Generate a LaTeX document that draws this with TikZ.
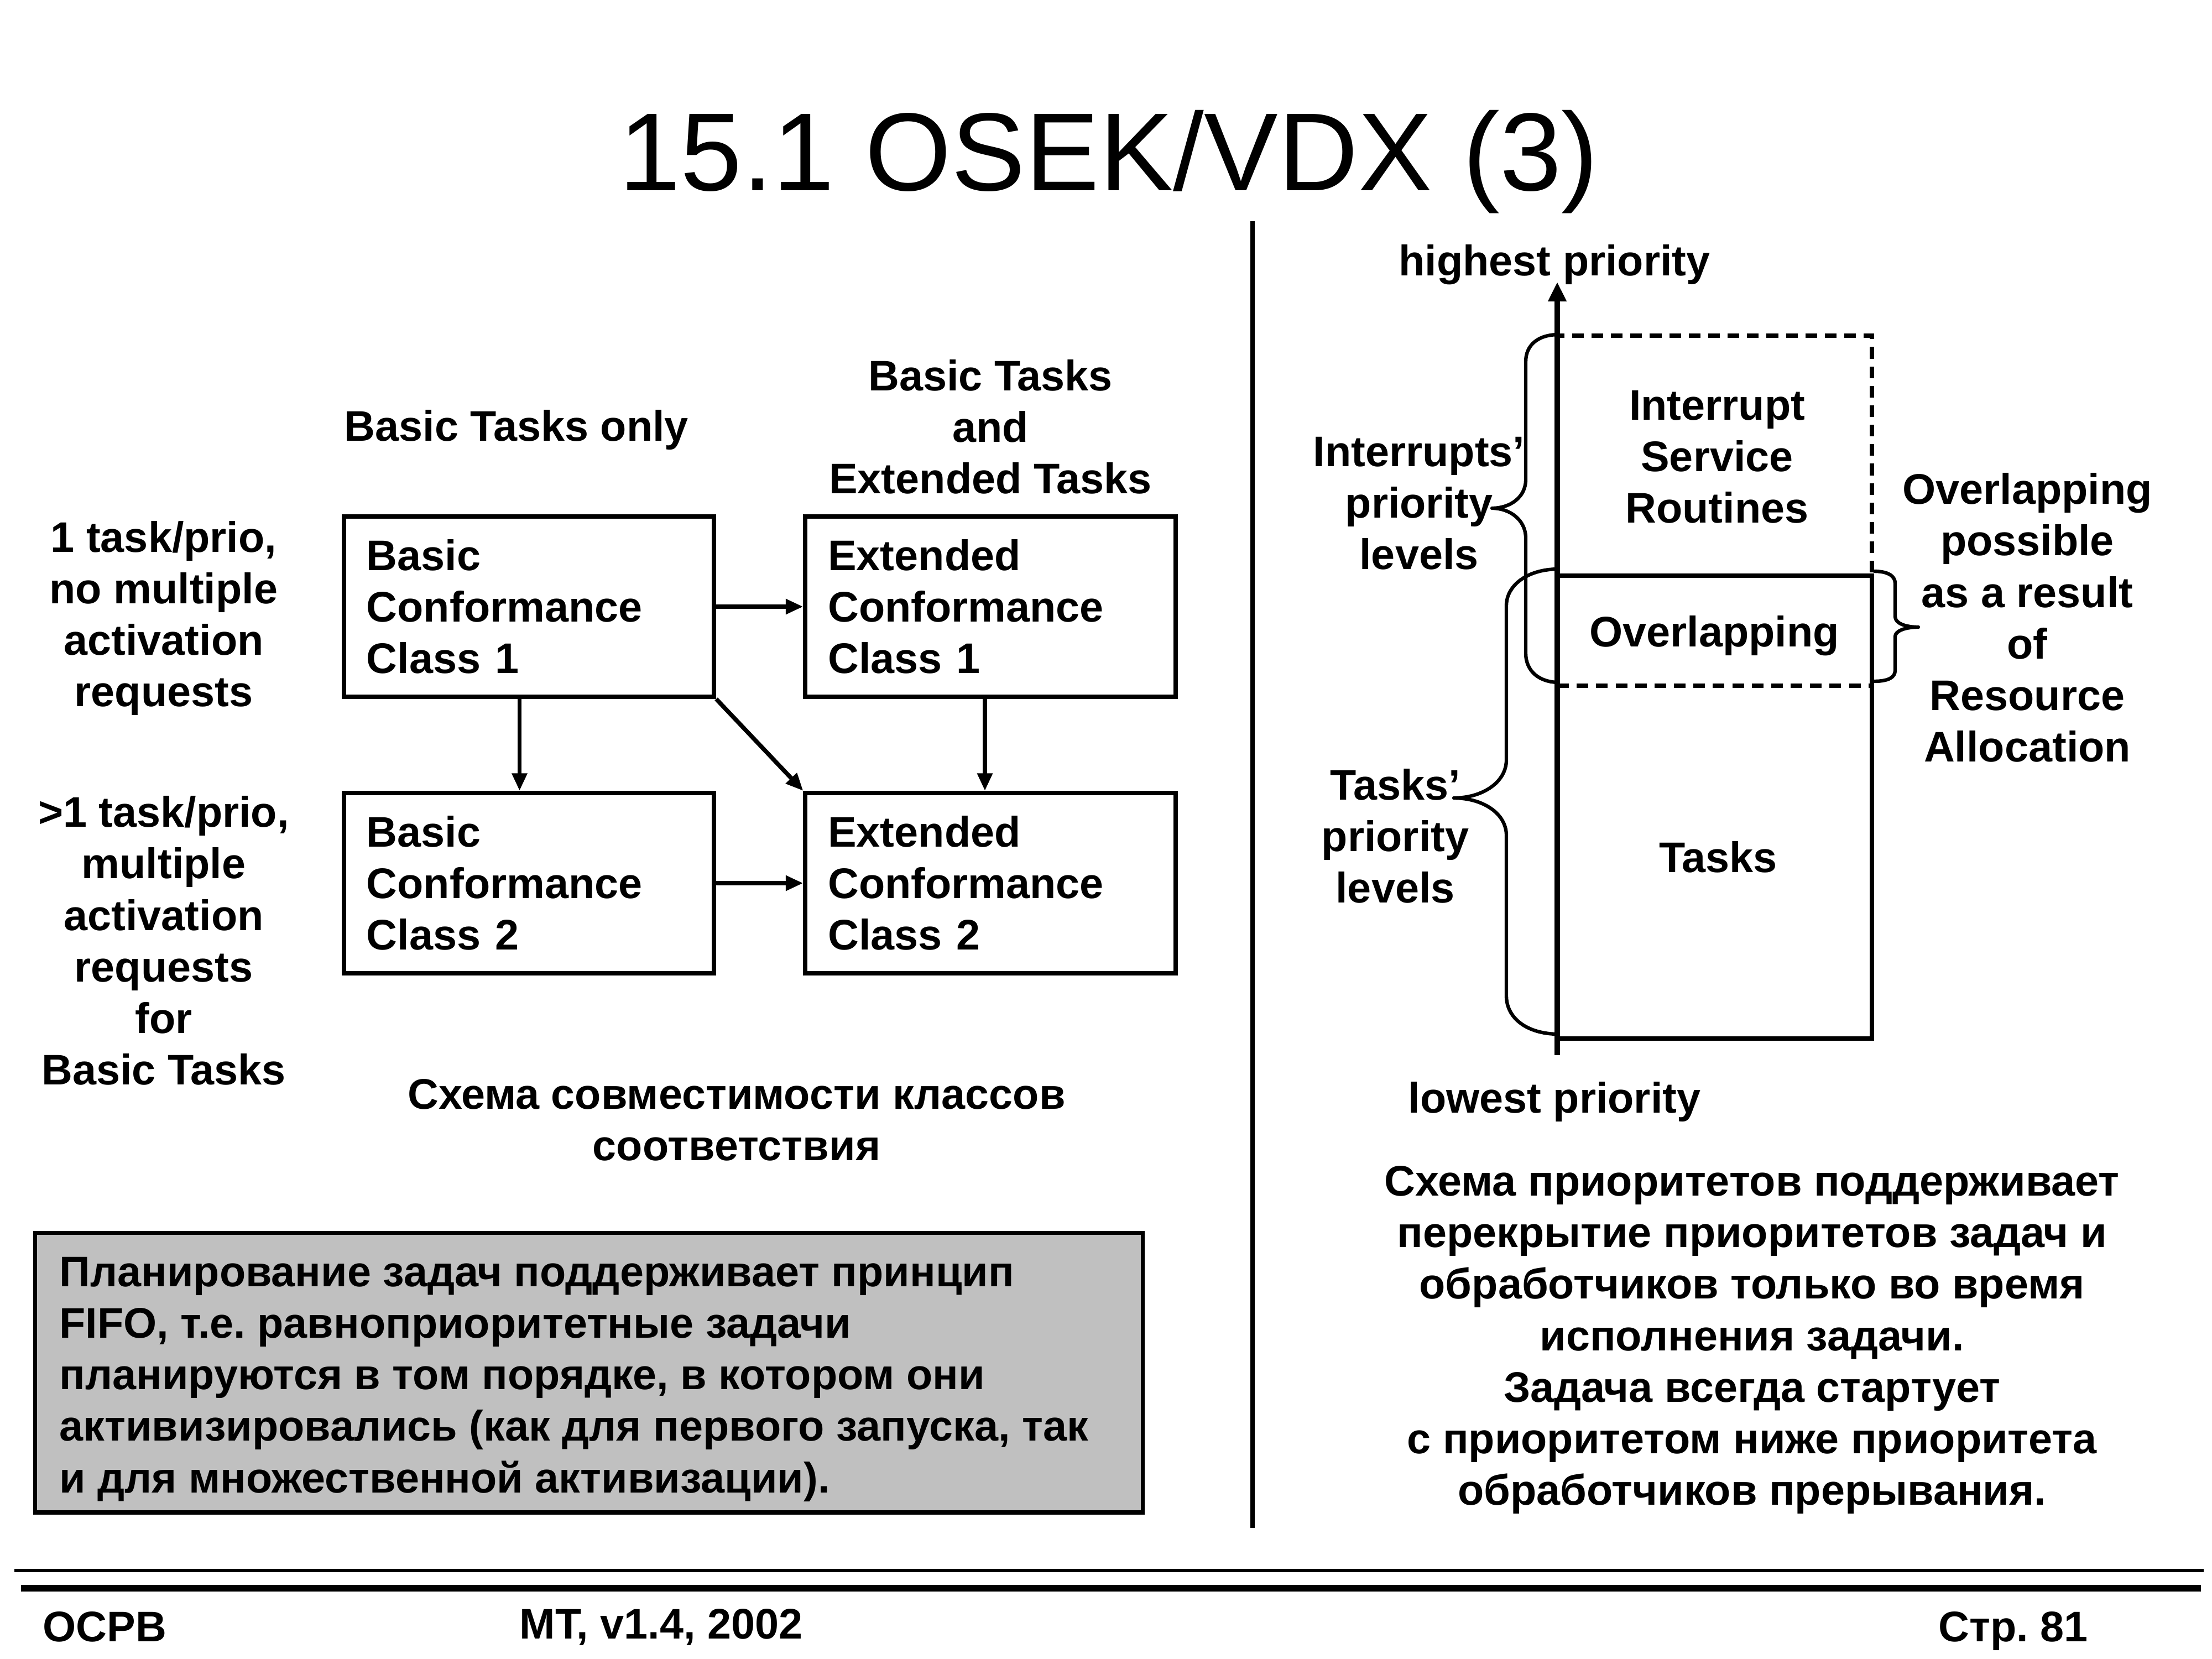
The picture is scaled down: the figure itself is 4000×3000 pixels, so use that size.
\documentclass[tikz,border=0pt]{standalone}
\usepackage{fontspec}
\setmainfont{Liberation Sans}
\usetikzlibrary{arrows.meta}
\definecolor{boxgray}{HTML}{C0C0C0}
\frenchspacing
\begin{document}
\begin{tikzpicture}[x=0.01cm,y=-0.01cm,
  txt/.style={font=\bfseries\fontsize{22}{26.5}\selectfont, inner sep=0pt, align=center, yshift=-0.07cm},
  classbox/.style={draw, line width=2.2pt, minimum width=6.69cm, minimum height=3.26cm,
     inner xsep=0.41cm, inner ysep=0pt, text width=5.87cm, align=left,
     font=\bfseries\fontsize{22}{26.5}\selectfont},
  arr/.style={line width=2.2pt, -{Triangle[length=9pt,width=7.5pt]}},
  axisarr/.style={line width=3pt, -{Triangle[length=10pt,width=9pt]}},
  bracestyle/.style={line width=1.8pt, line join=round},
  dashedrect/.style={line width=2.2pt, dash pattern=on 6pt off 4pt},
  solidrect/.style={line width=2.2pt}]
\useasboundingbox (0,0) rectangle (4000,3000);
\fill[white] (0,0) rectangle (4000,3000);

% title
\node[anchor=base, inner sep=0pt, font=\fontsize{57}{60}\selectfont] (title) at (2005,344) {15.1 OSEK/VDX (3)};

% separator
\coordinate (sepT) at (2265,400);
\coordinate (sepB) at (2265,2763);
\draw[line width=2.2pt] (sepT) -- (sepB);

% left: class boxes
\node[classbox] (b1) at (956.5,1097) {Basic\\Conformance\\Class 1};
\node[classbox] (e1) at (1791,1097) {Extended\\Conformance\\Class 1};
\node[classbox] (b2) at (956.5,1597) {Basic\\Conformance\\Class 2};
\node[classbox] (e2) at (1791,1597) {Extended\\Conformance\\Class 2};

\draw[arr] (b1.east) -- (e1.west);
\draw[arr] (b2.east) -- (e2.west);
\draw[arr] ([xshift=-0.17cm]b1.south) -- ([xshift=-0.17cm]b2.north);
\draw[arr] ([xshift=-0.1cm]e1.south) -- ([xshift=-0.1cm]e2.north);
\draw[arr] (b1.south east) -- (e2.north west);

\node[txt] (lbOnly) at (934,770) {Basic Tasks only};
\node[txt] (lbBoth) at (1791,765) {Basic Tasks\\and\\Extended Tasks};
\node[txt] (lbRow1) at (296,1111) {1 task/prio,\\no multiple\\activation\\requests};
\node[txt] (lbRow2) at (296,1694) {>1 task/prio,\\multiple\\activation\\requests\\for\\Basic Tasks};
\node[txt] (capL) at (1332,2018) {Схема совместимости классов\\соответствия};

% gray box
\node[draw, fill=boxgray, line width=2.2pt, minimum width=20.02cm, minimum height=5.05cm,
  inner sep=0pt] (fifo) at (1065,2482) {};
\node[txt, align=left, anchor=west] (fifoText) at (107,2487)
  {Планирование задач поддерживает принцип\\FIFO, т.е. равноприоритетные задачи\\планируются в том порядке, в котором они\\активизировались (как для первого запуска, так\\и для множественной активизации).};

% right: priority diagram
\draw[solidrect] (2816,1041) rectangle (3385,1878);
\draw[dashedrect] (2816,607) rectangle (3385,1240);

\coordinate (axB) at (2816,1908);
\coordinate (axT) at (2816,510);
\draw[axisarr] (axB) -- (axT);

% braces
\draw[bracestyle] (2819,605) .. controls (2780,605) and (2759,625) .. (2759,654) -- (2759,867)
  .. controls (2759,900) and (2730,919) .. (2698,919)
  .. controls (2730,919) and (2759,940) .. (2759,973) -- (2759,1181)
  .. controls (2759,1215) and (2785,1234) .. (2819,1234);
\draw[bracestyle] (2819,1029) .. controls (2760,1029) and (2724,1060) .. (2724,1095) -- (2724,1374)
  .. controls (2724,1415) and (2680,1443) .. (2629,1443)
  .. controls (2680,1443) and (2724,1470) .. (2724,1511) -- (2724,1801)
  .. controls (2724,1840) and (2760,1870) .. (2819,1870);
\draw[bracestyle] (3388,1033) .. controls (3415,1033) and (3427,1042) .. (3427,1055) -- (3427,1115)
  .. controls (3427,1127) and (3445,1134) .. (3469,1134)
  .. controls (3445,1134) and (3427,1141) .. (3427,1151) -- (3427,1212)
  .. controls (3427,1225) and (3415,1232) .. (3388,1232);

\node[txt] (hp) at (2811,472) {highest priority};
\node[txt] (lp) at (2811,1985) {lowest priority};
\node[txt] (isr) at (3105,819) {Interrupt\\Service\\Routines};
\node[txt] (ovl) at (3100,1143) {Overlapping};
\node[txt] (tsk) at (3107,1543) {Tasks};
\node[txt] (ipl) at (2566,903) {Interrupts’\\priority\\levels};
\node[txt] (tpl) at (2523,1505) {Tasks’\\priority\\levels};
\node[txt] (ovp) at (3666,1110) {Overlapping\\possible\\as a result\\of\\Resource\\Allocation};
\node[txt] (capR) at (3168,2416) {Схема приоритетов поддерживает\\перекрытие приоритетов задач и\\обработчиков только во время\\исполнения задачи.\\Задача всегда стартует\\с приоритетом ниже приоритета\\обработчиков прерывания.};

% footer
\coordinate (f1L) at (26,2840);
\coordinate (f1R) at (3985,2840);
\coordinate (f2L) at (38,2872);
\coordinate (f2R) at (3980,2872);
\draw[line width=1.7pt] (f1L) -- (f1R);
\draw[line width=3.4pt] (f2L) -- (f2R);
\node[font=\bfseries\fontsize{22}{26.5}\selectfont, inner sep=0pt, anchor=base west] (fa) at (77,2968) {ОСРВ};
\node[font=\bfseries\fontsize{22}{26.5}\selectfont, inner sep=0pt, anchor=base west] (fb) at (939,2963) {MT, v1.4, 2002};
\node[font=\bfseries\fontsize{22}{26.5}\selectfont, inner sep=0pt, anchor=base east] (fc) at (3776,2968) {Стр. 81};
\end{tikzpicture}
\end{document}
